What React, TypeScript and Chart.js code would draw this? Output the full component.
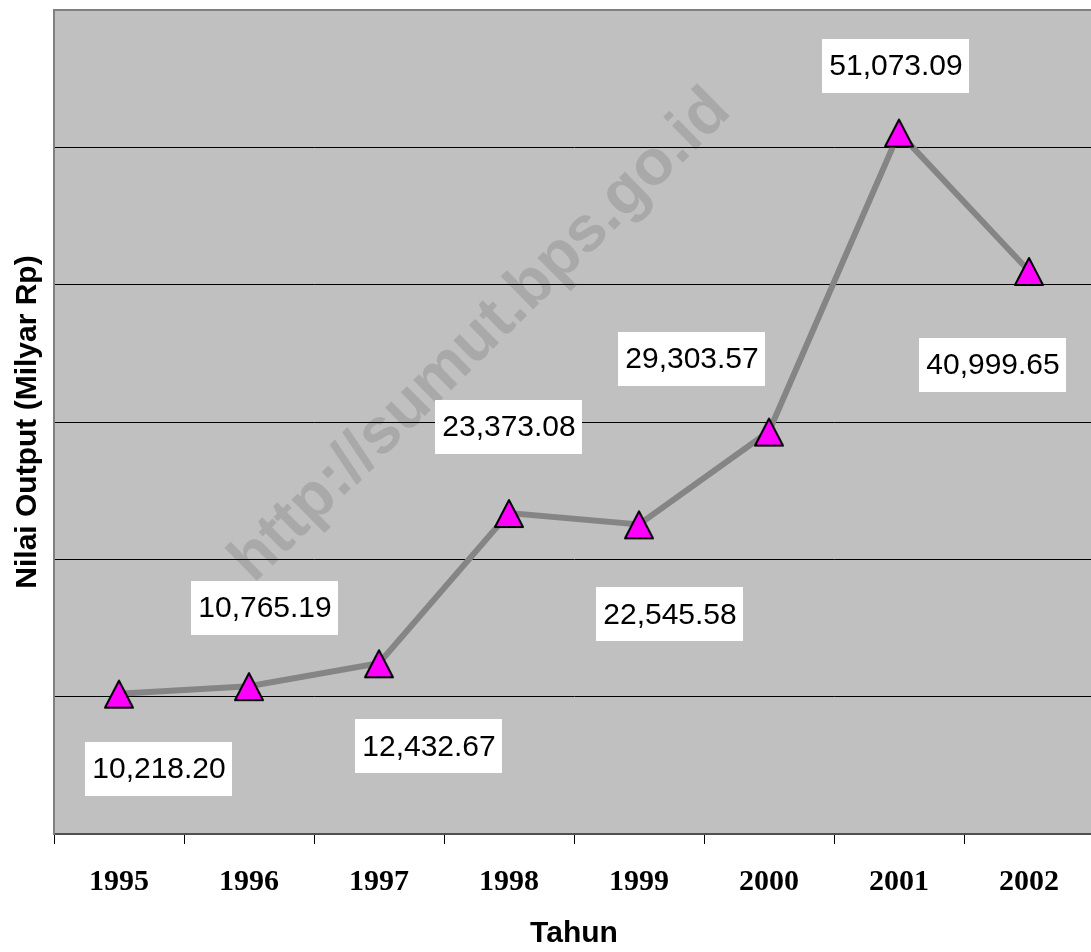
import React, { useEffect, useRef } from "react";
import { Chart, registerables } from "chart.js";

Chart.register(...registerables);

// ---- data ----
const YEARS: string[] = ["1995", "1996", "1997", "1998", "1999", "2000", "2001", "2002"];
const OUTPUT: number[] = [10218.2, 10765.19, 12432.67, 23373.08, 22545.58, 29303.57, 51073.09, 40999.65];
const Y_MIN = 0;
const Y_MAX = 60000;
const Y_STEP = 10000;
const X_TITLE = "Tahun";
const Y_TITLE = "Nilai Output (Milyar Rp)";
const WATERMARK = "http://sumut.bps.go.id";
// label box offsets from each point (style, not data)
const LABEL_OFFSETS: [number, number][] = [
  [40, 75],
  [16, -78],
  [50, 83],
  [0, -86],
  [31, 90],
  [-77, -73],
  [-3, -67],
  [-36, 94],
];

function fmt(v: number): string {
  const fixed = v.toFixed(2);
  const [intPart, dec] = fixed.split(".");
  const withCommas = intPart.replace(/\B(?=(\d{3})+(?!\d))/g, ",");
  return withCommas + "." + dec;
}

function makeTriangle(): HTMLCanvasElement {
  const c = document.createElement("canvas");
  c.width = 34;
  c.height = 34;
  const g = c.getContext("2d")!;
  g.beginPath();
  g.moveTo(17, 4);
  g.lineTo(31, 31);
  g.lineTo(3, 31);
  g.closePath();
  g.fillStyle = "#FF00FF";
  g.fill();
  g.lineWidth = 2;
  g.lineJoin = "round";
  g.strokeStyle = "#000000";
  g.stroke();
  return c;
}

const bgPlugin = {
  id: "plotBg",
  beforeDraw(chart: any) {
    const { ctx, chartArea } = chart;
    ctx.save();
    ctx.fillStyle = "#C0C0C0";
    ctx.fillRect(chartArea.left, chartArea.top, chartArea.right - chartArea.left, chartArea.bottom - chartArea.top);
    // watermark
    ctx.beginPath();
    ctx.rect(chartArea.left, chartArea.top, chartArea.right - chartArea.left, chartArea.bottom - chartArea.top);
    ctx.clip();
    ctx.translate(481, 336);
    ctx.rotate((-44.5 * Math.PI) / 180);
    ctx.font = "bold 64px 'Liberation Sans', Arial, sans-serif";
    ctx.fillStyle = "#A9A9A9";
    ctx.textAlign = "center";
    ctx.textBaseline = "middle";
    ctx.fillText(WATERMARK, 0, 0);
    ctx.restore();
  },
};

const labelPlugin = {
  id: "valueLabels",
  afterDatasetsDraw(chart: any) {
    const { ctx } = chart;
    const meta = chart.getDatasetMeta(0);
    ctx.save();
    ctx.font = "30px 'Liberation Sans', Arial, sans-serif";
    ctx.textAlign = "center";
    ctx.textBaseline = "middle";
    meta.data.forEach((el: any, i: number) => {
      const text = fmt(OUTPUT[i]);
      const off = LABEL_OFFSETS[i] || [0, -60];
      const cx = el.x + off[0];
      const cy = el.y + off[1];
      const w = ctx.measureText(text).width + 14;
      const h = 54;
      ctx.fillStyle = "#FFFFFF";
      ctx.fillRect(Math.round(cx - w / 2), Math.round(cy - h / 2), Math.round(w), h);
      ctx.fillStyle = "#000000";
      ctx.fillText(text, cx, cy + 1);
    });
    ctx.restore();
  },
};

export default function App() {
  const ref = useRef<HTMLCanvasElement>(null);
  useEffect(() => {
    const tri = makeTriangle();
    const chart = new Chart(ref.current!, {
      type: "line",
      data: {
        labels: YEARS,
        datasets: [
          {
            data: OUTPUT,
            borderColor: "#858585",
            borderWidth: 6,
            tension: 0,
            pointStyle: tri as any,
            pointRadius: 14,
            pointHoverRadius: 14,
            clip: false as any,
          },
        ],
      },
      options: {
        responsive: false,
        animation: false,
        events: [],
        layout: { autoPadding: false, padding: { top: 10, left: 0, right: 0, bottom: 0 } },
        plugins: {
          legend: { display: false },
          tooltip: { enabled: false },
        },
        scales: {
          x: {
            type: "category",
            offset: true,
            grid: {
              offset: true,
              drawOnChartArea: false,
              drawTicks: true,
              tickLength: 10,
              tickColor: "#000000",
              tickWidth: 1,
            },
            border: { display: true, color: "#505050", width: 2 },
            ticks: {
              color: "#000000",
              font: { family: "'Liberation Serif', 'Times New Roman', serif", size: 30, weight: "bold" },
              padding: 20,
              maxRotation: 0,
              autoSkip: false,
            },
            title: {
              display: true,
              text: X_TITLE,
              color: "#000000",
              font: { family: "'Liberation Sans', Arial, sans-serif", size: 30, weight: "bold" },
              padding: { top: 0, bottom: 0 },
            },
            afterFit: (s: any) => {
              s.height = 118;
              s.paddingLeft = 0;
              s.paddingRight = 0;
              s.paddingTop = 0;
              s.paddingBottom = 0;
            },
          } as any,
          y: {
            min: Y_MIN,
            max: Y_MAX,
            ticks: { stepSize: Y_STEP, display: false },
            grid: {
              drawTicks: false,
              color: (c: any) =>
                c.tick && c.tick.value === Y_MAX ? "#808080" : c.tick && c.tick.value === Y_MIN ? "rgba(0,0,0,0)" : "#000000",
              lineWidth: (c: any) => (c.tick && c.tick.value === Y_MAX ? 2 : 1),
            },
            border: { display: true, color: "#808080", width: 2 },
            title: {
              display: true,
              text: Y_TITLE,
              color: "#000000",
              font: { family: "'Liberation Sans', Arial, sans-serif", size: 30, weight: "bold" },
              padding: { top: 10, bottom: 0 },
            },
            afterFit: (s: any) => {
              s.width = 54;
              s.paddingLeft = 0;
              s.paddingRight = 0;
              s.paddingTop = 0;
              s.paddingBottom = 0;
            },
          } as any,
        },
      },
      plugins: [bgPlugin, labelPlugin],
    });
    return () => chart.destroy();
  }, []);
  return (
    <div
      style={{
        position: "fixed",
        left: 0,
        top: 0,
        width: "100vw",
        height: "100vh",
        overflow: "hidden",
        background: "#FFFFFF",
      }}
    >
      <canvas ref={ref} width={1094} height={952} style={{ display: "block", width: 1094, height: 952 }} />
    </div>
  );
}
